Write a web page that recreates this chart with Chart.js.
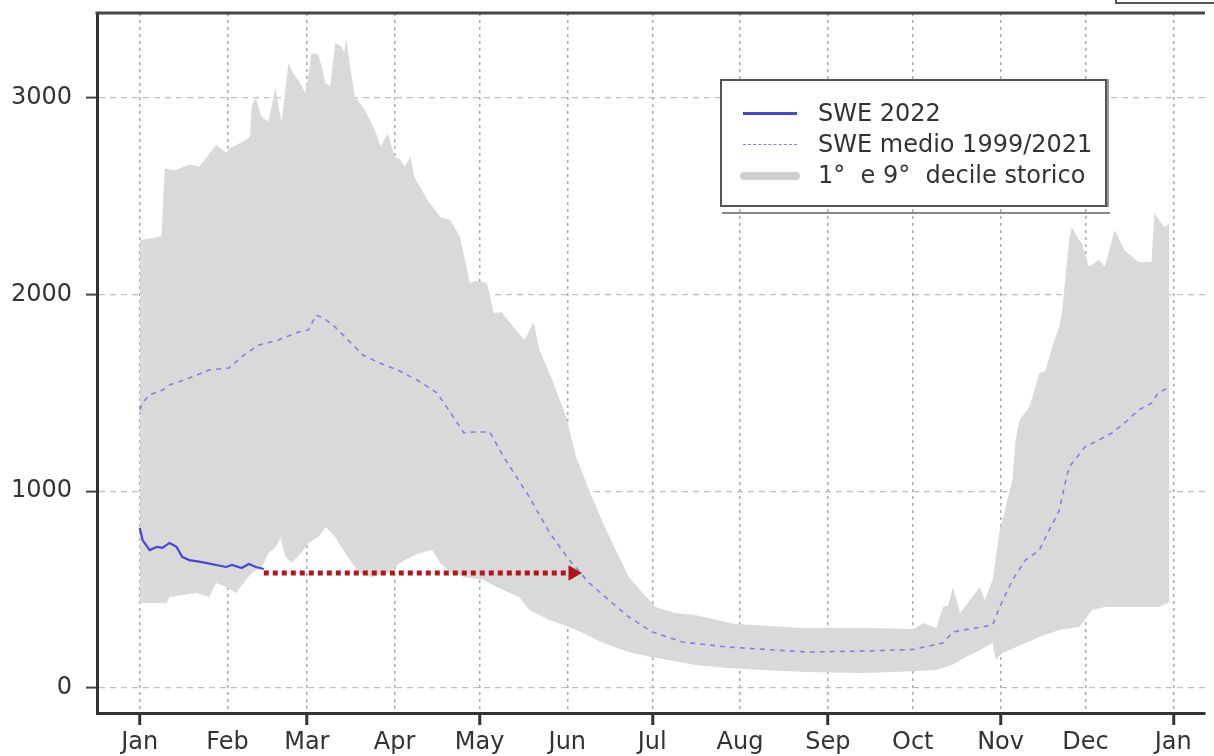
<!DOCTYPE html>
<html>
<head>
<meta charset="utf-8">
<script src="https://cdn.jsdelivr.net/npm/chart.js@4.4.1/dist/chart.umd.min.js"></script>
<style>
  body { margin: 0; background: #fff; }
  #wrap { position: relative; width: 1214px; height: 756px; overflow: hidden; }
  #leyenda { position: absolute; left: 720px; top: 79px; width: 383px;
    border: 2px solid #555; box-shadow: 2px 0 0 #999; background: #fff;
    font-family: 'DejaVu Sans', sans-serif; font-size: 24px; color: #333; padding-top: 17px; box-sizing: content-box; height: 107px; }
  .voce { position: relative; height: 31px; line-height: 31px; white-space: pre; }
  .campione { position: absolute; left: 21px; top: 15px; width: 54px; }
  .testo { position: absolute; left: 96px; top: 0; }
  #ombra { position: absolute; left: 722px; top: 212px; width: 388px; border-top: 2px solid #888; }
  #scatola { position: absolute; left: 1115px; top: -8px; width: 97px; height: 8px; border: 2px solid #555; }
</style>
</head>
<body>
<div id="wrap">
  <canvas id="grafica" width="1214" height="756"></canvas>
  <div id="leyenda"></div>
  <div id="ombra"></div>
  <div id="scatola"></div>
</div>
<script>
// giorno dell'anno (0 = 1 gen) e SWE in mm
const mesi = ['Jan', 'Feb', 'Mar', 'Apr', 'May', 'Jun', 'Jul', 'Aug', 'Sep', 'Oct', 'Nov', 'Dec', 'Jan'];
const inizioMesi = [0, 31, 59, 90, 120, 151, 181, 212, 243, 273, 304, 334, 365];
const tickY = [0, 1000, 2000, 3000];
const etichette = ['SWE 2022', 'SWE medio 1999/2021', '1°  e 9°  decile storico'];

const swe2022 = [[0, 813], [1, 752], [3.5, 701], [6, 717], [8, 712], [10.5, 737], [13, 717], [15, 666],
  [17.5, 650], [22, 640], [27, 625], [30.5, 615], [32.6, 625], [36, 610], [38.5, 630], [41, 615], [43.8, 605]];

const sweMedio = [[0, 1413], [1, 1450], [3.5, 1490], [8, 1514], [10.5, 1540], [17.5, 1575], [24.5, 1616],
  [31.5, 1626], [36.8, 1692], [42, 1743], [49, 1768], [56, 1809], [59.5, 1819], [62.3, 1895], [64.8, 1880],
  [68.3, 1844], [73.6, 1768], [78.8, 1692], [84, 1656], [91, 1616], [98, 1565], [105, 1499], [110.3, 1387],
  [114.5, 1296], [118, 1301], [123.6, 1301], [128.5, 1174], [137.6, 970], [144.7, 790], [151.7, 650],
  [158.7, 534], [165.7, 447], [172.7, 361], [181, 285], [191.6, 234], [207.7, 208], [235.7, 183],
  [256.7, 188], [273.2, 196], [283.7, 229], [287.2, 285], [301.2, 320], [303.7, 412], [308.2, 549],
  [312.8, 650], [317.7, 701], [321.2, 803], [324.7, 900], [326.8, 1040], [328.2, 1123], [333.8, 1225],
  [338.7, 1260], [343.3, 1296], [347.8, 1347], [352.7, 1412], [357.3, 1448], [359.7, 1499], [363.6, 1530]];

const decile9 = [[0, 2276], [6, 2290], [7.7, 2300], [8.8, 2640], [12.3, 2630], [17.5, 2660], [21, 2650],
  [23.8, 2700], [27, 2760], [28.7, 2740], [30.5, 2720], [32.2, 2745], [37.5, 2785], [38.9, 2800],
  [39.6, 2960], [41, 2995], [43.1, 2900], [45.5, 2880], [46.9, 2980], [48, 3048], [49, 2950], [50.1, 2880],
  [51.5, 3050], [52.5, 3175], [54.3, 3120], [56, 3090], [58.5, 3023], [59.9, 3150], [60.6, 3225],
  [63, 3220], [64.4, 3150], [65.5, 3074], [67.3, 3060], [69, 3277], [71.1, 3260], [72.2, 3230],
  [72.9, 3300], [74.3, 3155], [76, 3004], [79.5, 2937], [83, 2835], [85.1, 2750], [87.6, 2820],
  [90, 2700], [91.8, 2690], [93.5, 2647], [95.6, 2700], [97, 2597], [101.6, 2480], [106.1, 2393],
  [109.6, 2380], [113.1, 2292], [115.6, 2124], [116.6, 2058], [119.1, 2070], [122.6, 2058], [125, 1905],
  [127.8, 1910], [132, 1835], [135.9, 1768], [139.1, 1860], [141.2, 1717], [146.1, 1550], [150.6, 1377],
  [154.1, 1174], [158.7, 1006], [163.6, 838], [168.1, 701], [172.7, 564], [177.6, 483], [182.1, 412],
  [189.1, 381], [196.1, 371], [210.2, 325], [219.6, 318], [233.6, 305], [256.7, 305], [273.2, 300],
  [276.7, 330], [281.3, 305], [283.7, 412], [285.5, 420], [287.2, 513], [289.7, 381], [293.2, 447],
  [296.7, 513], [298.4, 447], [301.2, 549], [303.7, 803], [305.8, 920], [308.2, 1057], [309.3, 1260],
  [310.7, 1362], [314.2, 1428], [317.7, 1600], [319.8, 1610], [322.2, 1733], [324.7, 1835], [325.7, 1905],
  [328.2, 2276], [329.2, 2343], [331.7, 2276], [332.7, 2260], [335.2, 2140], [338.7, 2175], [340.8, 2140],
  [344.3, 2327], [347.8, 2225], [352.7, 2165], [357.3, 2165], [358.3, 2413], [361.8, 2343], [363.6, 2360]];

const decile1 = [[0, 432], [9.5, 432], [10.5, 462], [20, 483], [24.5, 462], [27, 534], [30.5, 513],
  [34, 483], [37.5, 549], [39.6, 584], [43.1, 615], [45.5, 686], [48, 717], [49.7, 762], [51.5, 666],
  [53.6, 635], [57, 686], [59.5, 737], [63, 767], [65.8, 818], [69, 767], [72.5, 686], [76, 615],
  [78, 584], [81.6, 564], [87.6, 584], [90, 615], [93.5, 650], [99, 686], [103.3, 701], [106.1, 635],
  [109.6, 589], [114.5, 564], [121.5, 549], [126, 513], [134, 462], [137.6, 396], [144.7, 346],
  [151.7, 310], [156.6, 280], [163.6, 229], [172.7, 183], [179.7, 160], [186.7, 142], [196.1, 117],
  [207.7, 102], [219.6, 91], [235.7, 81], [255.7, 76], [273.2, 85], [281.3, 91], [287.2, 120],
  [291.8, 157], [296.7, 193], [301.2, 229], [302.3, 142], [304.7, 178], [312.8, 229], [317.7, 259],
  [324.7, 295], [331.7, 310], [333.8, 346], [336.3, 396], [340.8, 412], [359.7, 412], [363.2, 432], [363.6, 432]];

const freccia = [[43.8, 584], [153, 584]];

const aXY = serie => serie.map(([x, y]) => ({ x, y }));

const bordoSuperiore = {
    id: 'bordoSuperiore',
    afterDraw(chart) {
        const { ctx, chartArea: { left, right, top } } = chart;
        ctx.save();
        ctx.strokeStyle = '#444';
        ctx.lineWidth = 3;
        ctx.beginPath();
        ctx.moveTo(left - 1.5, top);
        ctx.lineTo(right, top);
        ctx.stroke();
        ctx.restore();
    }
};

const font = { family: 'DejaVu Sans', size: 24 };

const init = () => {
    const chartCanva = document.getElementById('grafica').getContext('2d');
    const chart = new Chart(chartCanva, {
        type: 'line',
        data: {
            datasets: [
                {
                    label: etichette[0],
                    data: aXY(swe2022),
                    borderColor: '#4646d6',
                    borderWidth: 2.2,
                    pointRadius: 0,
                    order: 1,
                },
                {
                    label: etichette[1],
                    data: aXY(sweMedio),
                    borderColor: '#8282de',
                    borderWidth: 1.6,
                    borderDash: [5, 5],
                    pointRadius: 0,
                    order: 2,
                },
                {
                    label: etichette[2],
                    data: aXY(decile9),
                    borderColor: 'rgba(0,0,0,0)',
                    borderWidth: 0,
                    backgroundColor: '#d9d9d9',
                    fill: '+1',
                    pointRadius: 0,
                    order: 3,
                },
                {
                    label: 'decile 1',
                    data: aXY(decile1),
                    borderColor: 'rgba(0,0,0,0)',
                    borderWidth: 0,
                    fill: false,
                    pointRadius: 0,
                    order: 4,
                },
                {
                    label: 'freccia',
                    data: aXY(freccia),
                    borderColor: '#b3141c',
                    borderWidth: 5,
                    borderDash: [5, 4],
                    pointRadius: [0, 9],
                    pointStyle: 'triangle',
                    pointRotation: 90,
                    pointBackgroundColor: '#b3141c',
                    pointBorderWidth: 0,
                    order: 0,
                }
            ]
        },
        options: {
            responsive: false,
            animation: false,
            layout: { padding: { top: 13, left: 0, right: 0, bottom: 0 } },
            plugins: { legend: { display: false }, tooltip: { enabled: false } },
            scales: {
                x: {
                    type: 'linear',
                    min: -15.1,
                    max: 376.2,
                    z: 1,
                    afterBuildTicks: s => { s.ticks = inizioMesi.map(v => ({ value: v })); },
                    afterFit: s => { s.height = 43; s.paddingLeft = 0; s.paddingRight = 0; },
                    ticks: { callback: (v, i) => mesi[i], font, color: '#333', padding: 3, maxRotation: 0, autoSkip: false },
                    grid: {
                        color: '#aaaaaa',
                        lineWidth: 1.5,
                        tickLength: 12,
                        tickWidth: 3,
                        tickColor: c => c.index % 2 === 0 ? '#333' : 'rgba(0,0,0,0)',
                    },
                    border: { color: '#333', width: 3, dash: [3, 4] },
                },
                y: {
                    min: -127,
                    max: 3430,
                    z: 1,
                    afterBuildTicks: s => { s.ticks = tickY.map(v => ({ value: v })); },
                    afterFit: s => { s.width = 97; s.paddingTop = 0; s.paddingBottom = 0; },
                    ticks: { callback: v => String(v), font, color: '#333', padding: 14 },
                    grid: { color: '#c0c0c0', lineWidth: 1.2, tickLength: 11, tickWidth: 2, tickColor: '#444' },
                    border: { color: '#333', width: 3, dash: [6, 5] },
                }
            }
        },
        plugins: [bordoSuperiore]
    });

    // legenda in html dai dataset
    const leyenda = document.getElementById('leyenda');
    ['linea', 'tratteggio', 'banda'].forEach((tipo, i) => {
        const ds = chart.data.datasets[i];
        const voce = document.createElement('div');
        voce.className = 'voce';
        const campione = document.createElement('div');
        campione.className = 'campione';
        if (tipo === 'linea') {
            campione.style.borderTop = '3px solid ' + ds.borderColor;
            campione.style.top = '14px';
        } else if (tipo === 'tratteggio') {
            campione.style.borderTop = '1.5px dashed ' + ds.borderColor;
        } else {
            campione.style.height = '8px';
            campione.style.top = '12px';
            campione.style.left = '18px';
            campione.style.width = '60px';
            campione.style.borderRadius = '4px';
            campione.style.background = '#cfcfcf';
        }
        const testo = document.createElement('span');
        testo.className = 'testo';
        testo.textContent = ds.label;
        voce.appendChild(campione);
        voce.appendChild(testo);
        leyenda.appendChild(voce);
    });
}

document.addEventListener('DOMContentLoaded', () => {
    init()
})
</script>
</body>
</html>
